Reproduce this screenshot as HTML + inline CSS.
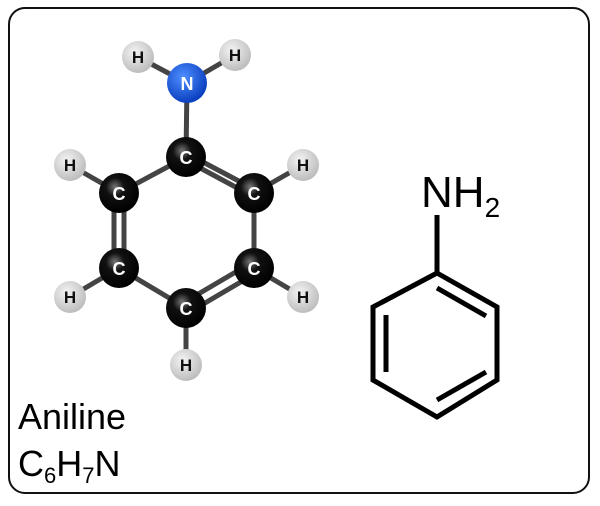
<!DOCTYPE html>
<html><head><style>body{margin:0;background:#fff}svg{display:block}</style></head><body>
<svg width="600" height="506" xmlns="http://www.w3.org/2000/svg" font-family="Liberation Sans, sans-serif">
<defs>
<radialGradient id="c" cx="40%" cy="35%" r="65%"><stop offset="0" stop-color="#777"/><stop offset="0.35" stop-color="#111"/><stop offset="1" stop-color="#000"/></radialGradient>
<radialGradient id="h" cx="40%" cy="35%" r="65%"><stop offset="0" stop-color="#f4f4f4"/><stop offset="1" stop-color="#bdbdbd"/></radialGradient>
<radialGradient id="n" cx="40%" cy="35%" r="65%"><stop offset="0" stop-color="#4f8fff"/><stop offset="1" stop-color="#0a3fc0"/></radialGradient>
</defs>
<rect x="9" y="8" width="580" height="485" rx="16" fill="#fff" stroke="#111" stroke-width="2"/>
<g stroke="#444" stroke-width="5" fill="none">
<line x1="138" y1="57" x2="187" y2="83"/><line x1="235" y1="55" x2="187" y2="83"/>
<line x1="187" y1="83" x2="186" y2="157"/>
<line x1="186" y1="157" x2="119" y2="193"/>
<line x1="184" y1="152" x2="252" y2="188"/><line x1="189" y1="162" x2="256" y2="198"/>
<line x1="114" y1="193" x2="114" y2="268"/><line x1="124" y1="193" x2="124" y2="268"/>
<line x1="254" y1="193" x2="254" y2="268"/>
<line x1="119" y1="268" x2="186" y2="308"/>
<line x1="251" y1="263" x2="183" y2="303"/><line x1="256" y1="273" x2="188" y2="313"/>
<line x1="70" y1="165" x2="119" y2="193"/><line x1="303" y1="165" x2="254" y2="193"/>
<line x1="70" y1="297" x2="119" y2="268"/><line x1="303" y1="297" x2="254" y2="268"/>
<line x1="186" y1="308" x2="186" y2="365"/>
</g>
<g font-weight="bold" text-anchor="middle">
<g fill="url(#h)"><circle cx="138" cy="57" r="16"/><circle cx="235" cy="55" r="16"/><circle cx="70" cy="165" r="16"/><circle cx="303" cy="165" r="16"/><circle cx="70" cy="297" r="16"/><circle cx="303" cy="297" r="16"/><circle cx="186" cy="365" r="16"/></g>
<g font-size="17" fill="#111"><text x="138" y="63">H</text><text x="235" y="61">H</text><text x="70" y="171">H</text><text x="303" y="171">H</text><text x="70" y="303">H</text><text x="303" y="303">H</text><text x="186" y="371">H</text></g>
<circle cx="187" cy="83" r="20" fill="url(#n)"/><text x="187" y="90" font-size="18" fill="#fff">N</text>
<g fill="url(#c)"><circle cx="186" cy="157" r="20"/><circle cx="119" cy="193" r="20"/><circle cx="254" cy="193" r="20"/><circle cx="119" cy="268" r="20"/><circle cx="254" cy="268" r="20"/><circle cx="186" cy="308" r="20"/></g>
<g font-size="18" fill="#fff"><text x="186" y="164">C</text><text x="119" y="200">C</text><text x="254" y="200">C</text><text x="119" y="275">C</text><text x="254" y="275">C</text><text x="186" y="315">C</text></g>
</g>
<g stroke="#000" stroke-width="5" fill="none" stroke-linejoin="miter">
<line x1="437" y1="215" x2="437" y2="273"/>
<polygon points="437,273 497,307 497,380 437,417 373,380 373,307"/>
<line x1="437" y1="288" x2="486" y2="316"/>
<line x1="386" y1="315" x2="386" y2="372"/>
<line x1="486" y1="372" x2="437" y2="400"/>
</g>
<text x="421" y="207" font-size="44">NH<tspan font-size="28" dy="10">2</tspan></text>
<text x="18" y="429" font-size="36">Aniline</text>
<text x="18" y="476" font-size="36">C<tspan font-size="22" dy="7">6</tspan><tspan dy="-7">H</tspan><tspan font-size="22" dy="7">7</tspan><tspan dy="-7">N</tspan></text>
</svg>
</body></html>
